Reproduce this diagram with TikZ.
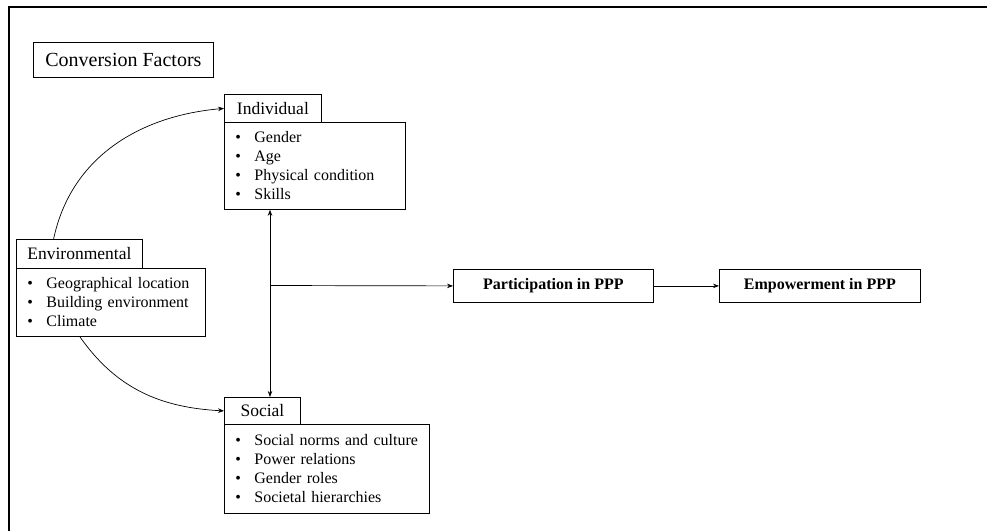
\documentclass[tikz,border=0pt]{standalone}
\usepackage{fontspec}
\setmainfont{Liberation Serif}
\usetikzlibrary{arrows.meta}

% one bullet line of a factor list
\newcommand{\itm}[1]{\makebox[19pt][l]{\textbullet}#1}

\begin{document}
\begin{tikzpicture}[x=1pt,y=1pt,
  box/.style={draw, line width=0.8pt, inner sep=0pt, align=center},
  headbox/.style={box, anchor=north west, font=\fontsize{17.5}{20}\selectfont},
  listbox/.style={draw, line width=0.8pt, anchor=north west, align=left,
    inner xsep=11pt, inner ysep=0pt, font=\fontsize{16}{19}\selectfont},
  flowbox/.style={box, anchor=north west, minimum width=200pt, minimum height=33pt,
    font=\fontsize{16}{19}\selectfont\bfseries},
  link/.style={line width=0.7pt, -{Stealth[length=6pt,width=4.5pt]}},
  dlink/.style={line width=0.7pt, {Stealth[length=6pt,width=4.5pt]}-{Stealth[length=6pt,width=4.5pt]}}
]
\useasboundingbox (0,0) rectangle (987,-531);

% outer frame (top and left sides only)
\draw[line width=1.3pt] (9,-531) -- (9,-7) -- (987,-7);

% title
\node[box, anchor=north west, minimum width=180pt, minimum height=35pt,
  font=\fontsize{20}{22}\selectfont] (title) at (33,-42) {Conversion Factors};

% individual factors
\node[listbox, text width=159pt, minimum height=87pt] (indb) at (224,-122)
  {\itm{Gender}\\\itm{Age}\\\itm{Physical condition}\\\itm{Skills}};
\node[headbox, minimum width=97pt, minimum height=28pt] (indh) at (224,-94) {Individual};

% environmental factors
\node[listbox, text width=167pt, minimum height=68pt] (envb) at (16,-268)
  {\itm{Geographical location}\\\itm{Building environment}\\\itm{Climate}};
\node[headbox, minimum width=126pt, minimum height=29pt] (envh) at (16,-239) {Environmental};

% social factors
\node[listbox, text width=183pt, minimum height=89pt] (socb) at (224,-424)
  {\itm{Social norms and culture}\\\itm{Power relations}\\\itm{Gender roles}\\\itm{Societal hierarchies}};
\node[headbox, minimum width=76pt, minimum height=27pt] (soch) at (224,-397) {Social};

% outcomes
\node[flowbox] (part) at (453,-269) {Participation in PPP};
\node[flowbox, minimum width=201pt] (emp) at (719,-269) {Empowerment in PPP};

% connectors
\coordinate (j) at (270,-285.5);
\draw[dlink] (j |- indb.south) -- (j |- soch.north);
\draw[link] (j) -- (part.west);
\draw[link] (part.east) -- (emp.west);
\draw[link] (envh.150) to[out=78, in=185] (indh.west);
\draw[link] (envb.228) to[out=-55, in=177] (soch.west);
\end{tikzpicture}
\end{document}
